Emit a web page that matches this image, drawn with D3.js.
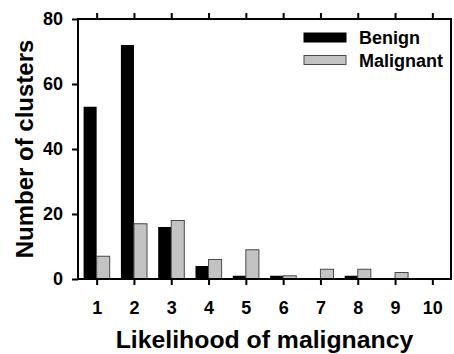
<!DOCTYPE html>
<html>
<head>
<meta charset="utf-8">
<script src="https://cdn.jsdelivr.net/npm/d3@7"></script>
<style>
  html, body { margin: 0; padding: 0; background: #fff; }
  svg { display: block; font-family: "Liberation Sans", Arial, Helvetica, sans-serif; font-weight: bold; }
</style>
</head>
<body>
<svg id="chart" width="454" height="354"></svg>
<script>
// Likelihood score categories and cluster counts per class
const categories = [1, 2, 3, 4, 5, 6, 7, 8, 9, 10];
const benign = [53, 72, 16, 4, 1, 1, 0, 1, 0, 0];
const malignant = [7, 17, 18, 6, 9, 1, 3, 3, 2, 0];
const yTicks = [0, 20, 40, 60, 80];
const seriesNames = ["Benign", "Malignant"];

const svg = d3.select("#chart");
const m = { left: 78, right: 451, top: 19, bottom: 279 };

const x = d3.scaleLinear().domain([0.5, 10.5]).range([m.left, m.right]);
const y = d3.scaleLinear().domain([0, 80]).range([m.bottom, m.top]);
const barW = (x(2) - x(1)) * 0.35;

const colors = { Benign: "#000", Malignant: "#c3c3c3" };
const strokes = { Benign: "#000", Malignant: "#4a4a4a" };

// Bars: benign to the left of each tick, malignant to the right
const g = svg.append("g");
g.selectAll("rect.benign").data(categories).join("rect")
  .attr("class", "benign")
  .attr("x", (d) => x(d) - barW)
  .attr("width", barW)
  .attr("y", (d, i) => y(benign[i]))
  .attr("height", (d, i) => y(0) - y(benign[i]))
  .attr("fill", colors.Benign);

g.selectAll("rect.malignant").data(categories).join("rect")
  .attr("class", "malignant")
  .attr("x", (d) => x(d))
  .attr("width", barW)
  .attr("y", (d, i) => y(malignant[i]))
  .attr("height", (d, i) => y(0) - y(malignant[i]))
  .attr("fill", colors.Malignant)
  .attr("stroke", strokes.Malignant)
  .attr("stroke-width", 1);

// Axes
const styleAxis = (sel) => {
  sel.select(".domain").remove();
  sel.selectAll(".tick line").attr("stroke", "#000").attr("stroke-width", 2);
  sel.selectAll(".tick text").attr("fill", "#000").attr("font-size", 18).attr("font-weight", "bold");
};

svg.append("g")
  .attr("transform", `translate(0,${m.bottom})`)
  .call(d3.axisBottom(x).tickValues(categories).tickFormat(d3.format("d")).tickSize(6).tickPadding(16))
  .call(styleAxis);

svg.append("g")
  .attr("transform", `translate(0,${m.top})`)
  .call(d3.axisTop(x).tickValues(categories).tickFormat("").tickSize(6))
  .call(styleAxis);

svg.append("g")
  .attr("transform", `translate(${m.left},0)`)
  .call(d3.axisLeft(y).tickValues(yTicks).tickSize(6).tickPadding(9))
  .call(styleAxis);

// Frame
svg.append("rect")
  .attr("x", m.left).attr("y", m.top)
  .attr("width", m.right - m.left).attr("height", m.bottom - m.top)
  .attr("fill", "none").attr("stroke", "#000").attr("stroke-width", 2);

// Axis titles
svg.append("text")
  .attr("x", (m.left + m.right) / 2).attr("y", 348)
  .attr("text-anchor", "middle").attr("font-size", 24.8)
  .text("Likelihood of malignancy");

svg.append("text")
  .attr("transform", `translate(33,${(m.top + m.bottom) / 2}) rotate(-90)`)
  .attr("text-anchor", "middle").attr("font-size", 24)
  .text("Number of clusters");

// Legend
const legend = svg.append("g");
seriesNames.forEach((name, i) => {
  const ly = 37.5 + i * 22.5;
  legend.append("rect")
    .attr("x", 304).attr("y", ly - 4.5).attr("width", 42).attr("height", 9)
    .attr("fill", colors[name])
    .attr("stroke", strokes[name]).attr("stroke-width", 1);
  legend.append("text")
    .attr("x", 359).attr("y", ly + 6.5)
    .attr("font-size", 18)
    .text(name);
});
</script>
</body>
</html>
